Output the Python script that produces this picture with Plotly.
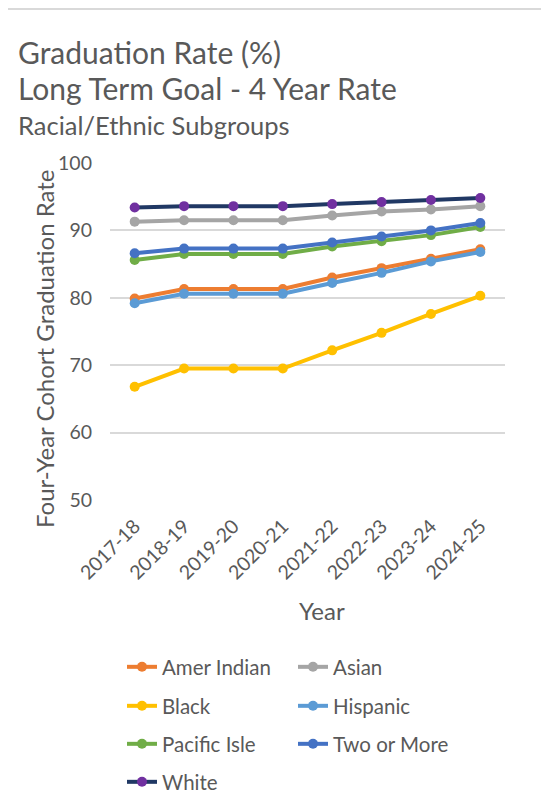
import plotly.graph_objects as go

years = ["2017-18", "2018-19", "2019-20", "2020-21", "2021-22", "2022-23", "2023-24", "2024-25"]
amer_indian = [79.9, 81.3, 81.3, 81.3, 83.0, 84.4, 85.8, 87.2]
asian = [91.3, 91.5, 91.5, 91.5, 92.2, 92.8, 93.1, 93.6]
black = [66.8, 69.5, 69.5, 69.5, 72.2, 74.8, 77.6, 80.3]
hispanic = [79.2, 80.6, 80.6, 80.6, 82.2, 83.7, 85.4, 86.8]
pacific_isle = [85.6, 86.5, 86.5, 86.5, 87.6, 88.4, 89.3, 90.5]
two_or_more = [86.6, 87.3, 87.3, 87.3, 88.2, 89.1, 90.0, 91.1]
white = [93.4, 93.6, 93.6, 93.6, 93.9, 94.2, 94.5, 94.8]
y_ticks = [50, 60, 70, 80, 90, 100]

series = [
    ("Amer Indian", amer_indian, "#ED7D31", "#ED7D31", "legend"),
    ("Asian", asian, "#A5A5A5", "#A5A5A5", "legend"),
    ("Black", black, "#FFC000", "#FFC000", "legend2"),
    ("Hispanic", hispanic, "#5B9BD5", "#5B9BD5", "legend2"),
    ("Pacific Isle", pacific_isle, "#70AD47", "#70AD47", "legend3"),
    ("Two or More", two_or_more, "#4472C4", "#4472C4", "legend3"),
    ("White", white, "#203864", "#7030A0", "legend4"),
]

# page has an 8px body margin; figure coords = reference coords - 8
OFF = 8
W, H = 533, 792
L, T = 110 - OFF, 163 - OFF
PR, PB = 505 - OFF, 500 - OFF
R, B = W - PR, H - PB
PW, PH = PR - L, PB - T

def px(x):
    return (x - OFF - L) / PW

def py(y):
    return (PB - (y - OFF)) / PH

fig = go.Figure()
for name, vals, lc, mc, lg in series:
    fig.add_trace(go.Scatter(
        x=years, y=vals, name=name, mode="lines+markers",
        line=dict(color=lc, width=4),
        marker=dict(color=mc, size=10, line=dict(width=0)),
        legend=lg,
    ))

font = "Lato, 'Open Sans', sans-serif"
grey = "#595959"
leg_common = dict(orientation="h", font=dict(family=font, size=20.5, color=grey),
                  entrywidth=126, entrywidthmode="pixels", xanchor="left", yanchor="middle",
                  bgcolor="rgba(0,0,0,0)", itemwidth=30)
rows = [667, 706, 744, 782]
legs = {}
for i, key in enumerate(["legend", "legend2", "legend3", "legend4"]):
    legs[key] = dict(leg_common, x=px(122), y=py(rows[i]))

annotations = [
    dict(text="Graduation Rate (%)", x=px(16), y=py(52), font=dict(size=30)),
    dict(text="Long Term Goal - 4 Year Rate", x=px(16), y=py(88), font=dict(size=30)),
    dict(text="Racial/Ethnic Subgroups", x=px(16), y=py(125), font=dict(size=25.5)),
]
for a in annotations:
    a.update(xanchor="left")
annotations += [
    dict(text="Four-Year Cohort Graduation Rate", x=px(44), y=py(349), textangle=-90,
         xanchor="center", font=dict(size=24)),
    dict(text="Year", x=px(322), y=py(610), xanchor="center", font=dict(size=24)),
]
for a in annotations:
    a.update(xref="paper", yref="paper", yanchor="middle", showarrow=False)
    a["font"].update(family=font, color=grey)

fig.update_layout(
    width=W, height=H,
    margin=dict(l=L, r=R, t=T, b=B, autoexpand=False),
    paper_bgcolor="white", plot_bgcolor="white",
    font=dict(family=font, color=grey, size=19),
    annotations=annotations,
    xaxis=dict(range=[-0.5, 7.5], tickangle=-45, showgrid=False, showline=False,
               ticks="", tickfont=dict(size=19.5, color=grey), ticklabelstandoff=10),
    yaxis=dict(range=[50, 100], tickvals=y_ticks, showgrid=True, gridcolor="#D9D9D9",
               gridwidth=1.5, zeroline=False, ticks="", tickfont=dict(size=19.5, color=grey),
               ticklabelstandoff=17),
    shapes=[
        dict(type="line", xref="paper", yref="paper", x0=px(OFF), x1=px(W + OFF), y0=py(9), y1=py(9),
             line=dict(color="#D9D9D9", width=2)),
    ],
    showlegend=True,
    **legs,
)

fig.write_html("out.html")
